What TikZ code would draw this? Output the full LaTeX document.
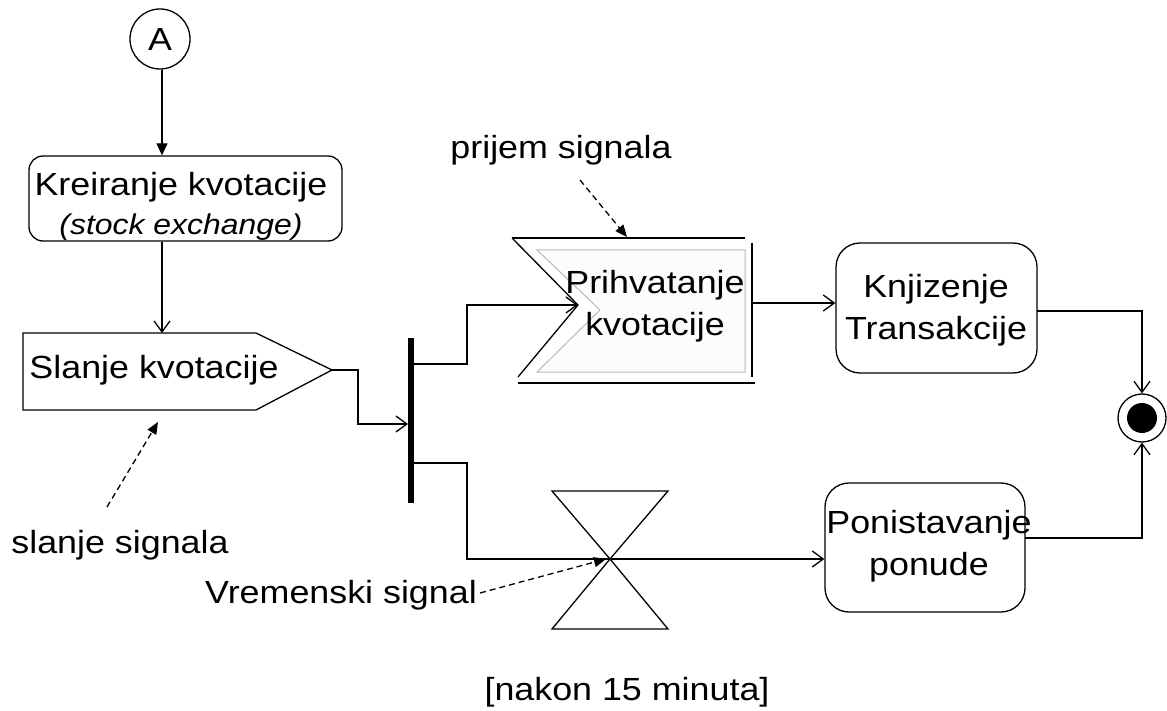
\documentclass[tikz,border=0pt]{standalone}
\usepackage{fontspec}
\setmainfont{Liberation Sans}[FakeStretch=1.12]
\usetikzlibrary{arrows.meta}
\tikzset{
  ln/.style={line width=1.3pt},
  arr/.style={ln, -{Straight Barb[length=11pt,width=16pt]}},
  arrf/.style={ln, -{Triangle[length=12pt,width=11pt]}},
  ptr/.style={ln, dash pattern=on 6pt off 4pt, -{Triangle[length=12pt,width=10pt]}},
  lbl/.style={font=\fontsize{32}{42}\selectfont, align=center, inner sep=0pt},
  actbox/.style={draw, ln, rounded corners=20pt, inner sep=0pt},
}
\begin{document}
\begin{tikzpicture}[x=1pt,y=-1pt]
\useasboundingbox (0,0) rectangle (1167,711);

% connector A
\node[draw, ln, circle, minimum size=60pt, inner sep=0pt, font=\fontsize{32}{40}\selectfont] (A) at (160,39) {A};

% Kreiranje kvotacije
\node[actbox, rounded corners=14pt, minimum width=313pt, minimum height=85pt] (kre) at (185.5,198.5) {};
\node[lbl] (kreT1) at (181,187) {Kreiranje kvotacije};
\node[lbl, font=\fontsize{28.5}{34}\selectfont\itshape] (kreT2) at (181,227) {(stock exchange)};

% Slanje kvotacije (send signal)
\draw[ln] (23,333) -- (256,333) -- (332,370) -- (256,410) -- (23,410) -- cycle;
\coordinate (slTop) at (162,333);
\coordinate (slTip) at (332,370);
\coordinate (slBot) at (158,422);
\node[lbl] (slT) at (154,370) {Slanje kvotacije};

% fork bar
\node[fill=black, minimum width=6pt, minimum height=165pt, inner sep=0pt] (bar) at (411,420.5) {};
\coordinate (barIn) at (408,424);
\coordinate (barO1) at (414,364);
\coordinate (barO2) at (414,463);

% accept signal (Prihvatanje kvotacije)
\fill[gray!2] (537,250) -- (745,250) -- (745,372) -- (537,372) -- (600,310) -- cycle;
\draw[line width=1pt, gray!55] (537,250) -- (745,250) -- (745,372) -- (537,372) -- (600,310) -- cycle;
\draw[ln] (512,238) -- (745,238);
\draw[ln] (512,238) -- (578,305) -- (518,377);
\draw[ln] (518,383) -- (755,383);
\draw[ln] (752,243) -- (752,377);
\coordinate (acIn) at (578,305);
\coordinate (acTop) at (627,237);
\coordinate (acOut) at (752,303);
\node[lbl] (acT) at (655,306) {Prihvatanje\\kvotacije};

% Knjizenje Transakcije
\node[actbox, rounded corners=24pt, minimum width=201pt, minimum height=130pt] (knj) at (936.5,308) {};
\node[lbl] (knjT) at (936,310) {Knjizenje\\Transakcije};
\coordinate (knjOut) at (1037,311);

% Ponistavanje ponude
\node[actbox, rounded corners=24pt, minimum width=200pt, minimum height=129pt] (pon) at (925,547.5) {};
\node[lbl] (ponT) at (929,546) {Ponistavanje\\ponude};
\coordinate (ponOut) at (1025,538);

% final node
\node[draw, ln, circle, minimum size=48pt, inner sep=0pt] (fin) at (1142,418) {};
\node[fill=black, circle, minimum size=30pt, inner sep=0pt] (finIn) at (fin) {};

% time event (hourglass)
\coordinate (hg) at (610,559);
\draw[ln] (552,491) -- (668,491) -- (hg) -- cycle;
\draw[ln] (552,629) -- (668,629) -- (hg) -- cycle;

% labels
\node[lbl] (lPrijem) at (561,150) {prijem signala};
\node[lbl] (lSlanje) at (120,545) {slanje signala};
\node[lbl] (lVrem) at (341,595) {Vremenski signal};
\node[lbl] (lNakon) at (627,692) {[nakon 15 minuta]};
\coordinate (pPrijem) at (580,180);
\coordinate (pSlanje) at (107,507);
\coordinate (pVrem) at (480,593);

% flows
\draw[arrf] (A.south -| slTop) -- (slTop |- kre.north);
\draw[arr] (kre.south -| slTop) -- (slTop);
\draw[arr] (slTip) -- ++(26,0) |- (barIn);
\draw[arr] (barO1) -- ++(53,0) |- (acIn);
\draw[ln] (barO2) -- ++(53,0) |- (hg);
\draw[arr] (hg) -- (hg -| pon.west);
\draw[arr] (acOut) -- (acOut -| knj.west);
\draw[arr] (knjOut) -| (fin.north);
\draw[arr] (ponOut) -| (fin.south);

% pointers
\draw[ptr] (pPrijem) -- (acTop);
\draw[ptr] (pSlanje) -- (slBot);
\draw[ptr] (pVrem) -- ([xshift=-4pt]hg);
\end{tikzpicture}
\end{document}
